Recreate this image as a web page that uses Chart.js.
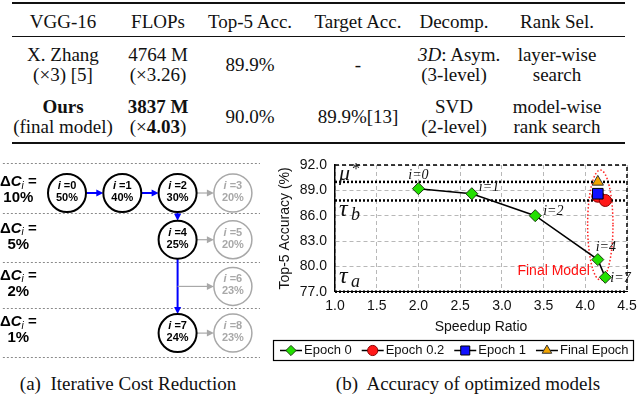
<!DOCTYPE html>
<html>
<head>
<meta charset="utf-8">
<script src="https://cdn.jsdelivr.net/npm/chart.js@4.4.1/dist/chart.umd.min.js"></script>
<style>
body { margin:0; width:640px; height:397px; background:#fff; position:relative; overflow:hidden;
       font-family:"Liberation Serif","Times New Roman",serif; color:#111; }
.rule { position:absolute; left:12px; width:613px; background:#111; }
.row { position:absolute; left:12px; display:flex; align-items:center; font-size:19px; line-height:20px; }
.row div { text-align:center; white-space:nowrap; }
.cap { position:absolute; top:373px; font-size:19px; line-height:22px; white-space:nowrap; transform:translateX(-50%); }
#costWrap { position:absolute; left:0; top:150px; }
#accWrap { position:absolute; left:270px; top:150px; }
</style>
</head>
<body>
<div class="rule" style="top:2px;height:2px"></div>
<div class="rule" style="top:36px;height:1px"></div>
<div class="rule" style="top:142px;height:2px"></div>
<div id="table"></div>

<div id="costWrap"><canvas id="cost" width="270" height="220"></canvas></div>
<div id="accWrap"><canvas id="acc" width="370" height="215"></canvas></div>

<div class="cap" style="left:128px">(a)&nbsp; Iterative Cost Reduction</div>
<div class="cap" style="left:468px">(b)&nbsp; Accuracy of optimized models</div>

<script>
// ---- table text
const colWidths = [102, 88, 96, 120, 72, 134];
const headerRow = ["VGG-16", "FLOPs", "Top-5 Acc.", "Target Acc.", "Decomp.", "Rank Sel."];
const zhangRow = ["X. Zhang<br>(&times;3) [5]", "4764 M<br>(&times;3.26)", "89.9%", "-", "<i>3D</i>: Asym.<br>(3-level)", "layer-wise<br>search"];
const oursRow = ["<b>Ours</b><br>(final model)", "<b>3837 M</b><br>(&times;<b>4.03</b>)", "90.0%", "89.9%[13]", "SVD<br>(2-level)", "model-wise<br>rank search"];

function addRow(cells, top, height) {
    let row = document.createElement("div");
    row.className = "row";
    row.style.top = top + "px";
    row.style.height = height + "px";
    cells.forEach((c, i) => {
        let d = document.createElement("div");
        d.style.width = colWidths[i] + "px";
        d.innerHTML = c;
        row.appendChild(d);
    });
    document.getElementById("table").appendChild(row);
}
addRow(headerRow, 10, 24);
addRow(zhangRow, 45, 40);
addRow(oursRow, 97, 40);

// ---- accuracy chart data
const epoch0X = [2.0, 2.64, 3.4, 4.15, 4.24];
const epoch0Y = [89.2, 88.6, 86.0, 80.8, 78.7];
const epoch0Names = ["i=0", "i=1", "i=2", "i=4", "i=7"];
const epoch02X = [4.15, 4.24];
const epoch02Y = [88.3, 87.8];
const epoch1X = [4.15];
const epoch1Y = [88.6];
const finalX = [4.15];
const finalY = [90.0];
const thresholdY = [90.0, 87.8, 77.0];   // mu*, tau_b, tau_a
const seriesNames = ["Epoch 0", "Epoch 0.2", "Epoch 1", "Final Epoch"];

// ---- cost reduction diagram data
const nodeCol = [0, 1, 2, 3, 2, 3, 3, 2, 3];
const nodeRow = [0, 0, 0, 0, 1, 1, 2, 3, 3];
const nodeRatio = ["50%", "40%", "30%", "20%", "25%", "20%", "23%", "24%", "23%"];
const nodeTaken = [true, true, true, false, true, false, false, true, false];
const rowDelta = ["10%", "5%", "2%", "1%"];
const edgeFrom = [0, 1, 2, 2, 4, 4, 4, 7];
const edgeTo = [1, 2, 3, 4, 5, 7, 6, 8];

const SANS = '"Liberation Sans", Arial, sans-serif';
const SERIF = '"Liberation Serif", "Times New Roman", serif';
Chart.defaults.font.family = SANS;

function pts(xs, ys) { return xs.map((x, i) => ({ x: x, y: ys[i] })); }

// text made of several styled pieces, centred at cx
function drawParts(ctx, parts, cx, cy, color) {
    let w = 0;
    parts.forEach(p => { ctx.font = p.f; w += ctx.measureText(p.t).width; });
    let x = cx - w / 2;
    ctx.fillStyle = color;
    ctx.textBaseline = "middle";
    ctx.textAlign = "left";
    parts.forEach(p => {
        ctx.font = p.f;
        ctx.fillText(p.t, x, cy + (p.dy || 0));
        x += ctx.measureText(p.t).width;
    });
}

function arrowHead(ctx, x, y, dx, dy, color) {
    ctx.fillStyle = color;
    ctx.beginPath();
    ctx.moveTo(x, y);
    ctx.lineTo(x - dx * 7 - dy * 3.5, y - dy * 7 - dx * 3.5);
    ctx.lineTo(x - dx * 7 + dy * 3.5, y - dy * 7 + dx * 3.5);
    ctx.closePath();
    ctx.fill();
}

const NODE_R = 19;
const rowBounds = [-0.64, 0.43, 1.48, 2.46, 3.51];

const costPlugin = {
    id: "costDraw",
    beforeDatasetsDraw(chart) {
        const ctx = chart.ctx, xs = chart.scales.x, ys = chart.scales.y;
        ctx.save();
        // dotted row separators
        ctx.strokeStyle = "#8a8a8a";
        ctx.lineWidth = 1;
        ctx.setLineDash([2, 2]);
        rowBounds.forEach(b => {
            let y = Math.round(ys.getPixelForValue(b)) + 0.5;
            ctx.beginPath();
            ctx.moveTo(xs.getPixelForValue(-1.16), y);
            ctx.lineTo(xs.getPixelForValue(3.49), y);
            ctx.stroke();
        });
        ctx.setLineDash([]);
        // edges
        edgeFrom.forEach((a, k) => {
            let b = edgeTo[k];
            let color = nodeTaken[a] && nodeTaken[b] ? "#0000ff" : "#a8a8a8";
            ctx.strokeStyle = color;
            ctx.lineWidth = color == "#0000ff" ? 2 : 1.2;
            let xa = xs.getPixelForValue(nodeCol[a]), ya = ys.getPixelForValue(nodeRow[a]);
            let xb = xs.getPixelForValue(nodeCol[b]), yb = ys.getPixelForValue(nodeRow[b]);
            let x0, y0, x1, y1, dx = 0, dy = 0;
            if (nodeRow[a] == nodeRow[b]) {
                x0 = xa + NODE_R; y0 = ya; x1 = xb - NODE_R; y1 = yb; dx = 1;
            } else if (nodeCol[a] == nodeCol[b]) {
                x0 = xa; y0 = ya + NODE_R; x1 = xb; y1 = yb - NODE_R; dy = 1;
            } else {
                x0 = xa; y0 = yb; x1 = xb - NODE_R; y1 = yb; dx = 1;
            }
            ctx.beginPath();
            ctx.moveTo(x0, y0);
            ctx.lineTo(x1 - dx * 5, y1 - dy * 5);
            ctx.stroke();
            arrowHead(ctx, x1, y1, dx, dy, color);
        });
        ctx.restore();
    },
    afterDatasetsDraw(chart) {
        const ctx = chart.ctx, xs = chart.scales.x, ys = chart.scales.y;
        ctx.save();
        nodeCol.forEach((c, i) => {
            let x = xs.getPixelForValue(c), y = ys.getPixelForValue(nodeRow[i]);
            let color = nodeTaken[i] ? "#000" : "#a8a8a8";
            drawParts(ctx, [
                { t: "i", f: "italic bold 11px " + SANS },
                { t: " =" + i, f: "bold 11px " + SANS }
            ], x, y - 7, color);
            drawParts(ctx, [{ t: nodeRatio[i], f: "bold 11px " + SANS }], x, y + 5, color);
        });
        rowDelta.forEach((d, r) => {
            let x = xs.getPixelForValue(-0.88), y = ys.getPixelForValue(r);
            drawParts(ctx, [
                { t: "\u0394", f: "bold 15px " + SANS },
                { t: "C", f: "italic bold 15px " + SANS },
                { t: "i", f: "italic 10px " + SANS, dy: 4 },
                { t: " =", f: "bold 15px " + SANS }
            ], x, y - 11, "#000");
            drawParts(ctx, [{ t: d, f: "bold 15px " + SANS }], x, y + 5, "#000");
        });
        ctx.restore();
    }
};

new Chart(document.getElementById("cost"), {
    type: "scatter",
    data: {
        datasets: [{
            data: pts(nodeCol, nodeRow),
            pointRadius: NODE_R,
            pointHoverRadius: NODE_R,
            pointBackgroundColor: "#fff",
            pointBorderColor: nodeTaken.map(t => t ? "#000" : "#a8a8a8"),
            pointBorderWidth: nodeTaken.map(t => t ? 2 : 1.5),
            clip: false
        }]
    },
    options: {
        responsive: false,
        animation: false,
        devicePixelRatio: 1,
        layout: { padding: 0, autoPadding: false },
        plugins: { legend: { display: false }, tooltip: { enabled: false } },
        scales: {
            x: { type: "linear", display: false, min: -1.2116, max: 3.671 },
            y: { type: "linear", display: false, min: -0.921, max: 3.79, reverse: true }
        }
    },
    plugins: [costPlugin]
});

// ---- accuracy chart
const seriesStyles = [
    { pointStyle: "rectRot", radius: 6, bg: "#22e000", border: "#1a3a10" },
    { pointStyle: "circle", radius: 6, bg: "#ff1818", border: "#8a0000" },
    { pointStyle: "rect", radius: 7.5, bg: "#1010ff", border: "#000" },
    { pointStyle: "triangle", radius: 6.5, bg: "#f2a400", border: "#333" }
];
const seriesData = [pts(epoch0X, epoch0Y), pts(epoch02X, epoch02Y), pts(epoch1X, epoch1Y), pts(finalX, finalY)];

let datasets = seriesData.map((d, i) => ({
    label: seriesNames[i],
    data: d,
    showLine: true,
    borderColor: "#000",
    borderWidth: 1.5,
    pointStyle: seriesStyles[i].pointStyle,
    pointRadius: seriesStyles[i].radius,
    pointBackgroundColor: seriesStyles[i].bg,
    pointBorderColor: seriesStyles[i].border,
    pointBorderWidth: 1,
    order: 5 - i,
    clip: false
}));
thresholdY.forEach(v => {
    datasets.push({
        label: "",
        data: [{ x: 1.0, y: v }, { x: 4.5, y: v }],
        showLine: true,
        borderColor: "#000",
        borderWidth: 2.5,
        borderDash: [2, 2],
        pointRadius: 0,
        order: 10,
        clip: false
    });
});

const labelOffsets = [[0, -13, "center"], [7, -6, "left"], [8, -4, "left"], [8, -12, "center"], [5, 1, "left"]];

const accPlugin = {
    id: "accDraw",
    beforeDatasetsDraw(chart) {
        const ctx = chart.ctx, xs = chart.scales.x, ys = chart.scales.y;
        // red dotted ellipse round the final models
        let cx = xs.getPixelForValue(4.18), cy = ys.getPixelForValue(84.9);
        let rx = xs.getPixelForValue(4.18 + 0.152) - cx, ry = cy - ys.getPixelForValue(84.9 + 6.5);
        ctx.save();
        ctx.strokeStyle = "#ff2020";
        ctx.lineWidth = 1.5;
        ctx.setLineDash([1.5, 2]);
        ctx.beginPath();
        ctx.ellipse(cx, cy, rx, ry, 0, 0, Math.PI * 2);
        ctx.stroke();
        ctx.restore();
    },
    afterDatasetsDraw(chart) {
        const ctx = chart.ctx, xs = chart.scales.x, ys = chart.scales.y, a = chart.chartArea;
        ctx.save();
        // dashed top and right frame
        ctx.strokeStyle = "#000";
        ctx.lineWidth = 1.5;
        ctx.setLineDash([4, 3]);
        ctx.beginPath();
        ctx.moveTo(a.left, a.top);
        ctx.lineTo(a.right, a.top);
        ctx.lineTo(a.right, a.bottom);
        ctx.stroke();
        ctx.setLineDash([]);

        // point names
        ctx.fillStyle = "#111";
        ctx.font = "italic 14px " + SERIF;
        ctx.textBaseline = "middle";
        epoch0Names.forEach((n, i) => {
            let o = labelOffsets[i];
            ctx.textAlign = o[2];
            ctx.fillText(n, xs.getPixelForValue(epoch0X[i]) + o[0], ys.getPixelForValue(epoch0Y[i]) + o[1]);
        });

        // threshold symbols
        ctx.textAlign = "left";
        ctx.textBaseline = "alphabetic";
        let gx = a.left + 4;
        ctx.font = "italic 22px " + SERIF;
        ctx.fillText("\u03bc", gx, ys.getPixelForValue(thresholdY[0]) - 2);
        ctx.font = "16px " + SERIF;
        ctx.fillText("*", gx + 13, ys.getPixelForValue(thresholdY[0]) - 8);
        ctx.font = "italic 24px " + SERIF;
        ctx.fillText("\u03c4", gx, ys.getPixelForValue(thresholdY[1]) + 16);
        ctx.fillText("\u03c4", gx, ys.getPixelForValue(thresholdY[2]) - 9);
        ctx.font = "italic 18px " + SERIF;
        ctx.fillText("b", gx + 12, ys.getPixelForValue(thresholdY[1]) + 20);
        ctx.fillText("a", gx + 12, ys.getPixelForValue(thresholdY[2]) - 5);

        // final model note
        ctx.fillStyle = "#ff1010";
        ctx.font = "14px " + SANS;
        ctx.textAlign = "right";
        ctx.textBaseline = "middle";
        ctx.fillText("Final Model", xs.getPixelForValue(4.15) - 8, ys.getPixelForValue(79.4));
        ctx.restore();
    },
    afterDraw(chart) {
        // legend with line + marker, in a box
        const ctx = chart.ctx;
        const top = 190, h = 20, left = 3, w = 360;
        ctx.save();
        ctx.strokeStyle = "#000";
        ctx.lineWidth = 1.2;
        ctx.strokeRect(left + 0.5, top + 0.5, w, h);
        ctx.font = "13px " + SANS;
        ctx.textBaseline = "middle";
        ctx.textAlign = "left";
        let x = left + 7, y = top + h / 2 + 0.5;
        seriesNames.forEach((n, i) => {
            ctx.strokeStyle = "#000";
            ctx.lineWidth = 1.5;
            ctx.beginPath();
            ctx.moveTo(x, y);
            ctx.lineTo(x + 22, y);
            ctx.stroke();
            let s = seriesStyles[i];
            ctx.fillStyle = s.bg;
            ctx.strokeStyle = s.border;
            ctx.lineWidth = 1;
            Chart.helpers.drawPoint(ctx, { pointStyle: s.pointStyle, radius: s.radius * 0.85, rotation: 0, borderWidth: 1 }, x + 11, y);
            ctx.fillStyle = "#111";
            ctx.fillText(n, x + 24, y);
            x += 24 + ctx.measureText(n).width + 10;
        });
        ctx.restore();
    }
};

new Chart(document.getElementById("acc"), {
    type: "scatter",
    data: { datasets: datasets },
    options: {
        responsive: false,
        animation: false,
        devicePixelRatio: 1,
        layout: { padding: { top: 15, right: 13, left: 0, bottom: 29.6 }, autoPadding: false },
        plugins: { legend: { display: false }, tooltip: { enabled: false } },
        scales: {
            x: {
                type: "linear", min: 1.0, max: 4.5,
                ticks: { stepSize: 0.5, padding: 6, color: "#111", font: { size: 14 }, callback: v => v.toFixed(1) },
                grid: { color: "#b8b8b8", lineWidth: 1, drawTicks: false },
                border: { display: true, color: "#000", width: 1, dash: [4, 3] },
                title: { display: true, text: "Speedup Ratio", color: "#111", font: { size: 14 }, padding: { top: 0, bottom: 0 } },
                afterFit: s => { s.height = 43.7; s.paddingLeft = 0; s.paddingRight = 0; }
            },
            y: {
                type: "linear", min: 77, max: 92,
                ticks: { stepSize: 3, padding: 8, color: "#111", font: { size: 14 }, callback: v => v.toFixed(1) },
                grid: { color: "#b8b8b8", lineWidth: 1, drawTicks: false },
                border: { display: true, color: "#000", width: 1.5, dash: [4, 3] },
                title: { display: true, text: "Top-5 Accuracy (%)", color: "#111", font: { size: 14 }, padding: { top: 6.6, bottom: 0 } },
                afterFit: s => { s.width = 65; s.paddingTop = 0; s.paddingBottom = 0; }
            }
        }
    },
    plugins: [accPlugin]
});
</script>
</body>
</html>
